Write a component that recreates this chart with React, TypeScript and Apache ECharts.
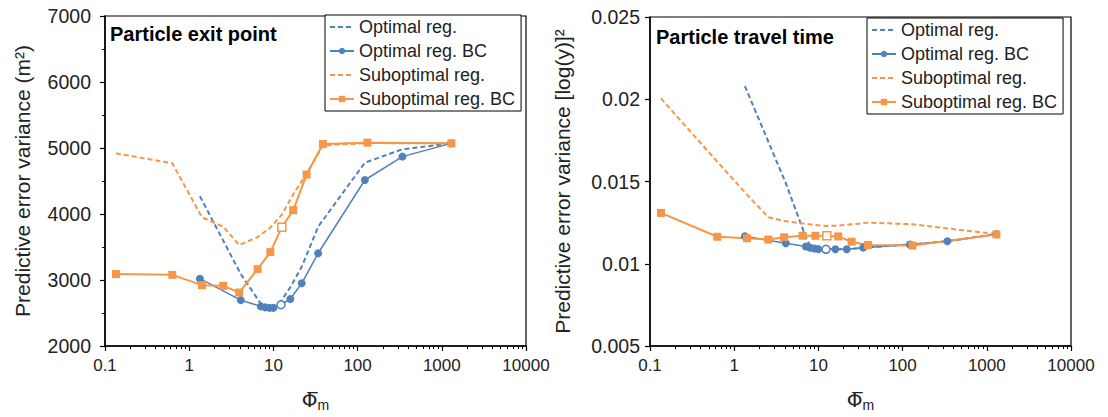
import React, { useEffect, useRef } from "react";
import * as echarts from "echarts";

// Shared x positions (Φ̄m)
const X_OPT = [1.34, 4.1, 7.1, 8, 9, 10, 12.3, 15.9, 21.7, 34, 122, 340, 1290];
const X_SUB = [0.135, 0.63, 1.42, 2.54, 3.92, 6.5, 9.2, 12.6, 17.2, 24.8, 38.7, 131, 1300];
const HOLLOW_OPT = 6;
const HOLLOW_SUB = 7;

// Left panel: Particle exit point (m²)
const EXIT_OPT = [4270, 3090, 2640, 2590, 2580, 2585, 2680, 2890, 3200, 3808, 4778, 4980, 5070];
const EXIT_OPT_BC = [3020, 2695, 2600, 2585, 2578, 2578, 2625, 2712, 2950, 3405, 4515, 4869, 5070];
const EXIT_SUB = [4920, 4768, 3950, 3808, 3530, 3650, 3795, 3990, 4300, 4610, 5040, 5075, 5070];
const EXIT_SUB_BC = [3090, 3078, 2922, 2912, 2810, 3165, 3422, 3800, 4058, 4598, 5060, 5081, 5071];

// Right panel: Particle travel time [log(y)]²
const TRAVEL_OPT = [0.0208, 0.0149, 0.0116, 0.0111, 0.01095, 0.0109, 0.0109, 0.01088, 0.01088, 0.01098, 0.01117, 0.01137, 0.0118];
const TRAVEL_OPT_BC = [0.01167, 0.01125, 0.01105, 0.01097, 0.01092, 0.01089, 0.01088, 0.01088, 0.01088, 0.01098, 0.01117, 0.01137, 0.0118];
const TRAVEL_SUB = [0.02005, 0.0162, 0.0142, 0.01283, 0.0126, 0.01245, 0.01235, 0.0123, 0.01232, 0.0124, 0.0125, 0.0124, 0.0118];
const TRAVEL_SUB_BC = [0.01309, 0.01164, 0.01155, 0.01147, 0.01161, 0.0117, 0.0117, 0.0117, 0.01166, 0.01134, 0.01114, 0.01111, 0.01178];

const X_MAJOR = [0.1, 1, 10, 100, 1000, 10000];
const NAMES = ["Optimal reg.", "Optimal reg. BC", "Suboptimal reg.", "Suboptimal reg. BC"];
const HAS_MARKER = [false, true, false, true];
const TITLES = ["Particle exit point", "Particle travel time"];
const Y_NAMES = ["Predictive error variance (m²)", "Predictive error variance [log(y)]²"];

const BLUE = "#4F81BD";
const ORANGE = "#F79646";
const FONT = "Liberation Sans, Arial, sans-serif";

function minorTicks(): number[] {
  const out: number[] = [];
  for (let e = -1; e < 4; e++) {
    for (let k = 2; k <= 9; k++) out.push(k * Math.pow(10, e));
  }
  return out;
}

function pairs(xs: number[], ys: number[], hollow: number | null, color: string) {
  return xs.map((x, i) => {
    if (hollow !== null && i === hollow) {
      return { value: [x, ys[i]], itemStyle: { color: "#fff", borderColor: color, borderWidth: 1.5 } };
    }
    return [x, ys[i]];
  });
}

function fmtX(v: number): string {
  if (v < 1) return v.toFixed(1);
  return String(Math.round(v));
}

export default function App() {
  const ref = useRef<HTMLDivElement>(null);
  useEffect(() => {
    if (!ref.current) return;
    const chart = echarts.init(ref.current, undefined, { renderer: "svg" });
    const grids = [
      { left: 105, top: 16, width: 421, height: 330 },
      { left: 650, top: 17, width: 421, height: 330 },
    ];
    const xAxes: any[] = [];
    const yAxes: any[] = [];
    const series: any[] = [];
    const datasets = [
      [EXIT_OPT, EXIT_OPT_BC, EXIT_SUB, EXIT_SUB_BC],
      [TRAVEL_OPT, TRAVEL_OPT_BC, TRAVEL_SUB, TRAVEL_SUB_BC],
    ];
    const xRich = {
      a: { fontSize: 20, fontFamily: "DejaVu Sans", color: "#222" },
      b: { fontSize: 14, fontFamily: FONT, color: "#222", padding: [10, 0, 0, 0] },
    };
    for (let g = 0; g < 2; g++) {
      xAxes.push({
        type: "log",
        logBase: 10,
        gridIndex: g,
        min: 0.1,
        max: 10000,
        name: "{a|Φ\u0305}{b|m}",
        nameLocation: "middle",
        nameGap: 42,
        nameTextStyle: { rich: xRich },
        axisLine: { show: true, lineStyle: { color: "#000", width: 1.5 } },
        axisTick: { show: true, length: 5, customValues: X_MAJOR, lineStyle: { color: "#000", width: 1.2 } },
        axisLabel: {
          customValues: X_MAJOR,
          formatter: (v: number) => fmtX(v),
          fontSize: 17,
          fontFamily: FONT,
          color: "#222",
          margin: 11,
        },
        splitLine: { show: false },
      });
      xAxes.push({
        type: "log",
        logBase: 10,
        gridIndex: g,
        min: 0.1,
        max: 10000,
        position: "bottom",
        axisLine: { show: false },
        axisTick: { show: true, length: 3, customValues: minorTicks(), lineStyle: { color: "#000", width: 1 } },
        axisLabel: { show: false },
        splitLine: { show: false },
      });
      const isLeft = g === 0;
      yAxes.push({
        type: "value",
        gridIndex: g,
        min: isLeft ? 2000 : 0.005,
        max: isLeft ? 7000 : 0.025,
        interval: isLeft ? 1000 : 0.005,
        name: Y_NAMES[g],
        nameLocation: "middle",
        nameGap: isLeft ? 72 : 77,
        nameTextStyle: { fontSize: 21, fontFamily: FONT, color: "#222" },
        axisLine: { show: true, lineStyle: { color: "#000", width: 1.5 } },
        axisTick: { show: true, length: 5, lineStyle: { color: "#000", width: 1.2 } },
        minorTick: { show: isLeft, splitNumber: 2, length: 3, lineStyle: { color: "#000", width: 1 } },
        axisLabel: {
          fontSize: 19.5,
          fontFamily: FONT,
          color: "#222",
          margin: isLeft ? 14 : 10,
          formatter: (v: number) => (isLeft ? String(v) : String(parseFloat(v.toFixed(3)))),
        },
        splitLine: { show: false },
      });
      const d = datasets[g];
      const xi = g * 2;
      series.push({
        name: NAMES[0],
        type: "line",
        xAxisIndex: xi,
        yAxisIndex: g,
        symbol: "none",
        data: pairs(X_OPT, d[0], null, BLUE),
        lineStyle: { color: BLUE, width: 2, type: [5, 3] },
        itemStyle: { color: BLUE },
      });
      series.push({
        name: NAMES[1],
        type: "line",
        xAxisIndex: xi,
        yAxisIndex: g,
        symbol: "circle",
        symbolSize: 8,
        data: pairs(X_OPT, d[1], HOLLOW_OPT, BLUE),
        lineStyle: { color: BLUE, width: 1.5 },
        itemStyle: { color: BLUE },
      });
      series.push({
        name: NAMES[2],
        type: "line",
        xAxisIndex: xi,
        yAxisIndex: g,
        symbol: "none",
        data: pairs(X_SUB, d[2], null, ORANGE),
        lineStyle: { color: ORANGE, width: 2, type: [5, 3] },
        itemStyle: { color: ORANGE },
      });
      series.push({
        name: NAMES[3],
        type: "line",
        xAxisIndex: xi,
        yAxisIndex: g,
        symbol: "rect",
        symbolSize: 8,
        data: pairs(X_SUB, d[3], HOLLOW_SUB, ORANGE),
        lineStyle: { color: ORANGE, width: 2 },
        itemStyle: { color: ORANGE },
      });
    }
    const legendBase = {
      orient: "vertical",
      data: NAMES.map((n, i) =>
        HAS_MARKER[i]
          ? { name: n }
          : { name: n, itemStyle: { color: "rgba(0,0,0,0)", borderColor: "rgba(0,0,0,0)", borderWidth: 0, opacity: 0 } }
      ),
      backgroundColor: "#fff",
      borderColor: "#000",
      borderWidth: 1,
      padding: [3, 6, 3, 4],
      itemWidth: 24,
      itemHeight: 8,
      itemGap: 6,
      textStyle: { fontSize: 18, fontFamily: FONT, color: "#222", lineHeight: 18 },
      selectedMode: false,
    };
    chart.setOption({
      animation: false,
      backgroundColor: "#fff",
      title: [
        { text: TITLES[0], left: 105, top: 19, textStyle: { fontSize: 20, fontWeight: "bold", fontFamily: FONT, color: "#000" } },
        { text: TITLES[1], left: 651, top: 22, textStyle: { fontSize: 20, fontWeight: "bold", fontFamily: FONT, color: "#000" } },
      ],
      grid: grids.map((gr) => ({ ...gr, show: true, borderColor: "#000", borderWidth: 1.2, backgroundColor: "transparent" })),
      legend: [
        { ...legendBase, left: 325, top: 15 },
        { ...legendBase, left: 867, top: 18 },
      ],
      xAxis: xAxes,
      yAxis: yAxes,
      series,
    });
    return () => chart.dispose();
  }, []);
  return <div ref={ref} style={{ position: "fixed", left: 0, top: 0, width: 1108, height: 417 }} />;
}
